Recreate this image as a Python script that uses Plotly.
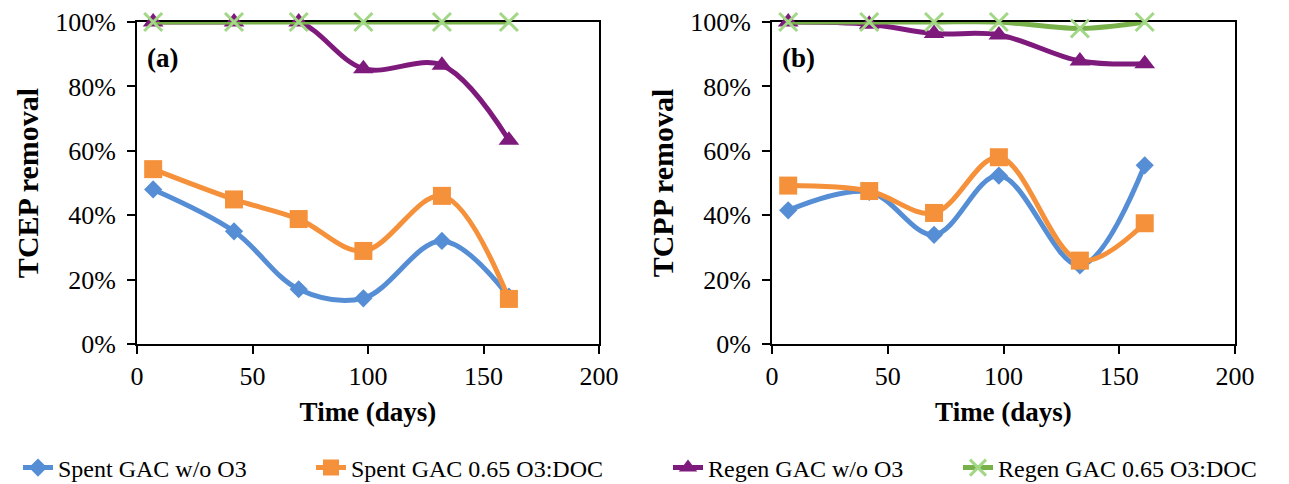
import plotly.graph_objects as go

# ---------------- data ----------------
days_a = [7, 42, 70, 98, 132, 161]
days_b = [7, 42, 70, 98, 133, 161]

tcep_spent_no_o3 = [0.48, 0.35, 0.17, 0.142, 0.32, 0.147]
tcep_spent_o3 = [0.543, 0.449, 0.388, 0.289, 0.46, 0.14]
tcep_regen_no_o3 = [1.0, 1.0, 1.0, 0.855, 0.866, 0.633]
tcep_regen_o3 = [1.0, 1.0, 1.0, 1.0, 1.0, 1.0]

tcpp_spent_no_o3 = [0.415, 0.472, 0.339, 0.523, 0.244, 0.555]
tcpp_spent_o3 = [0.492, 0.475, 0.407, 0.58, 0.259, 0.375]
tcpp_regen_no_o3 = [1.0, 0.993, 0.964, 0.96, 0.879, 0.87]
tcpp_regen_o3 = [1.0, 1.0, 1.0, 1.0, 0.98, 1.0]

series_names = ["Spent GAC w/o O3", "Spent GAC 0.65 O3:DOC",
                "Regen GAC w/o O3", "Regen GAC 0.65 O3:DOC"]
panel_labels = ["(a)", "(b)"]
y_titles = ["TCEP removal", "TCPP removal"]
x_title = "Time (days)"

# ---------------- styles ----------------
FONT = "Liberation Serif, Times New Roman, serif"
colors = ["#558ed5", "#f5913a", "#7e1a7c", "#78b14a"]
marker_styles = [
    dict(symbol="diamond", size=14, color="#558ed5"),
    dict(symbol="square", size=18, color="#f5913a"),
    dict(symbol="triangle-up", size=18, color="#7e1a7c"),
    dict(symbol="x-thin", size=18, color="#a2d786",
         line=dict(width=3, color="#a2d786")),
]

fig = go.Figure()

panels = [
    (days_a, [tcep_spent_no_o3, tcep_spent_o3, tcep_regen_no_o3, tcep_regen_o3], "x", "y"),
    (days_b, [tcpp_spent_no_o3, tcpp_spent_o3, tcpp_regen_no_o3, tcpp_regen_o3], "x2", "y2"),
]
legend_ids = ["legend", "legend2", "legend3", "legend4"]

for p, (xs, ys_list, xa, ya) in enumerate(panels):
    for i, ys in enumerate(ys_list):
        fig.add_trace(go.Scatter(
            x=xs, y=ys, name=series_names[i], mode="lines+markers",
            line=dict(color=colors[i], width=5, shape="spline", smoothing=1.0),
            marker=marker_styles[i], cliponaxis=False,
            xaxis=xa, yaxis=ya, showlegend=(p == 0), legend=legend_ids[i],
        ))

L, R, T, B = 137, 54, 22, 140
W, H = 1289, 484
pw = W - L - R

def px2paper_x(px):
    return (px - L) / pw

axis_common = dict(
    showline=True, linecolor="black", linewidth=2, mirror=True,
    ticks="outside", ticklen=8, tickwidth=2, tickcolor="black",
    showgrid=False, zeroline=False, layer="below traces",
    tickfont=dict(family=FONT, size=26, color="black"),
    automargin=False,
)

fig.update_layout(
    width=W, height=H,
    margin=dict(l=L, r=R, t=T, b=B, autoexpand=False),
    paper_bgcolor="white", plot_bgcolor="white",
    font=dict(family=FONT, color="black"),
    xaxis=dict(domain=[0, px2paper_x(599)], range=[0, 200], dtick=50,
               title=dict(text="<b>%s</b>" % x_title, font=dict(size=27), standoff=12),
               **axis_common),
    xaxis2=dict(domain=[px2paper_x(772), 1.0], range=[0, 200], dtick=50, anchor="y2",
                title=dict(text="<b>%s</b>" % x_title, font=dict(size=27), standoff=12),
                **axis_common),
    yaxis=dict(range=[0, 1], dtick=0.2, tickformat=".0%", anchor="x",
               title=dict(text="<b>%s</b>" % y_titles[0], font=dict(size=30), standoff=8),
               ticklabelstandoff=6, **axis_common),
    yaxis2=dict(range=[0, 1], dtick=0.2, tickformat=".0%", anchor="x2",
                title=dict(text="<b>%s</b>" % y_titles[1], font=dict(size=30), standoff=8),
                ticklabelstandoff=6, **axis_common),
    showlegend=True,
)

legend_text_start = [60, 353, 710, 1000]
for lid, tx in zip(legend_ids, legend_text_start):
    fig.update_layout({lid: dict(
        x=(tx - 42) / W, xref="container", xanchor="left",
        y=1 - 468 / H, yref="container", yanchor="middle",
        orientation="h", bgcolor="rgba(0,0,0,0)",
        font=dict(family=FONT, size=24, color="black"),
    )})

fig.add_annotation(x=11, y=0.888, xref="x", yref="y", text="<b>%s</b>" % panel_labels[0],
                   showarrow=False, font=dict(family=FONT, size=27, color="black"))
fig.add_annotation(x=11.5, y=0.888, xref="x2", yref="y2", text="<b>%s</b>" % panel_labels[1],
                   showarrow=False, font=dict(family=FONT, size=27, color="black"))

fig.write_html("out.html")
